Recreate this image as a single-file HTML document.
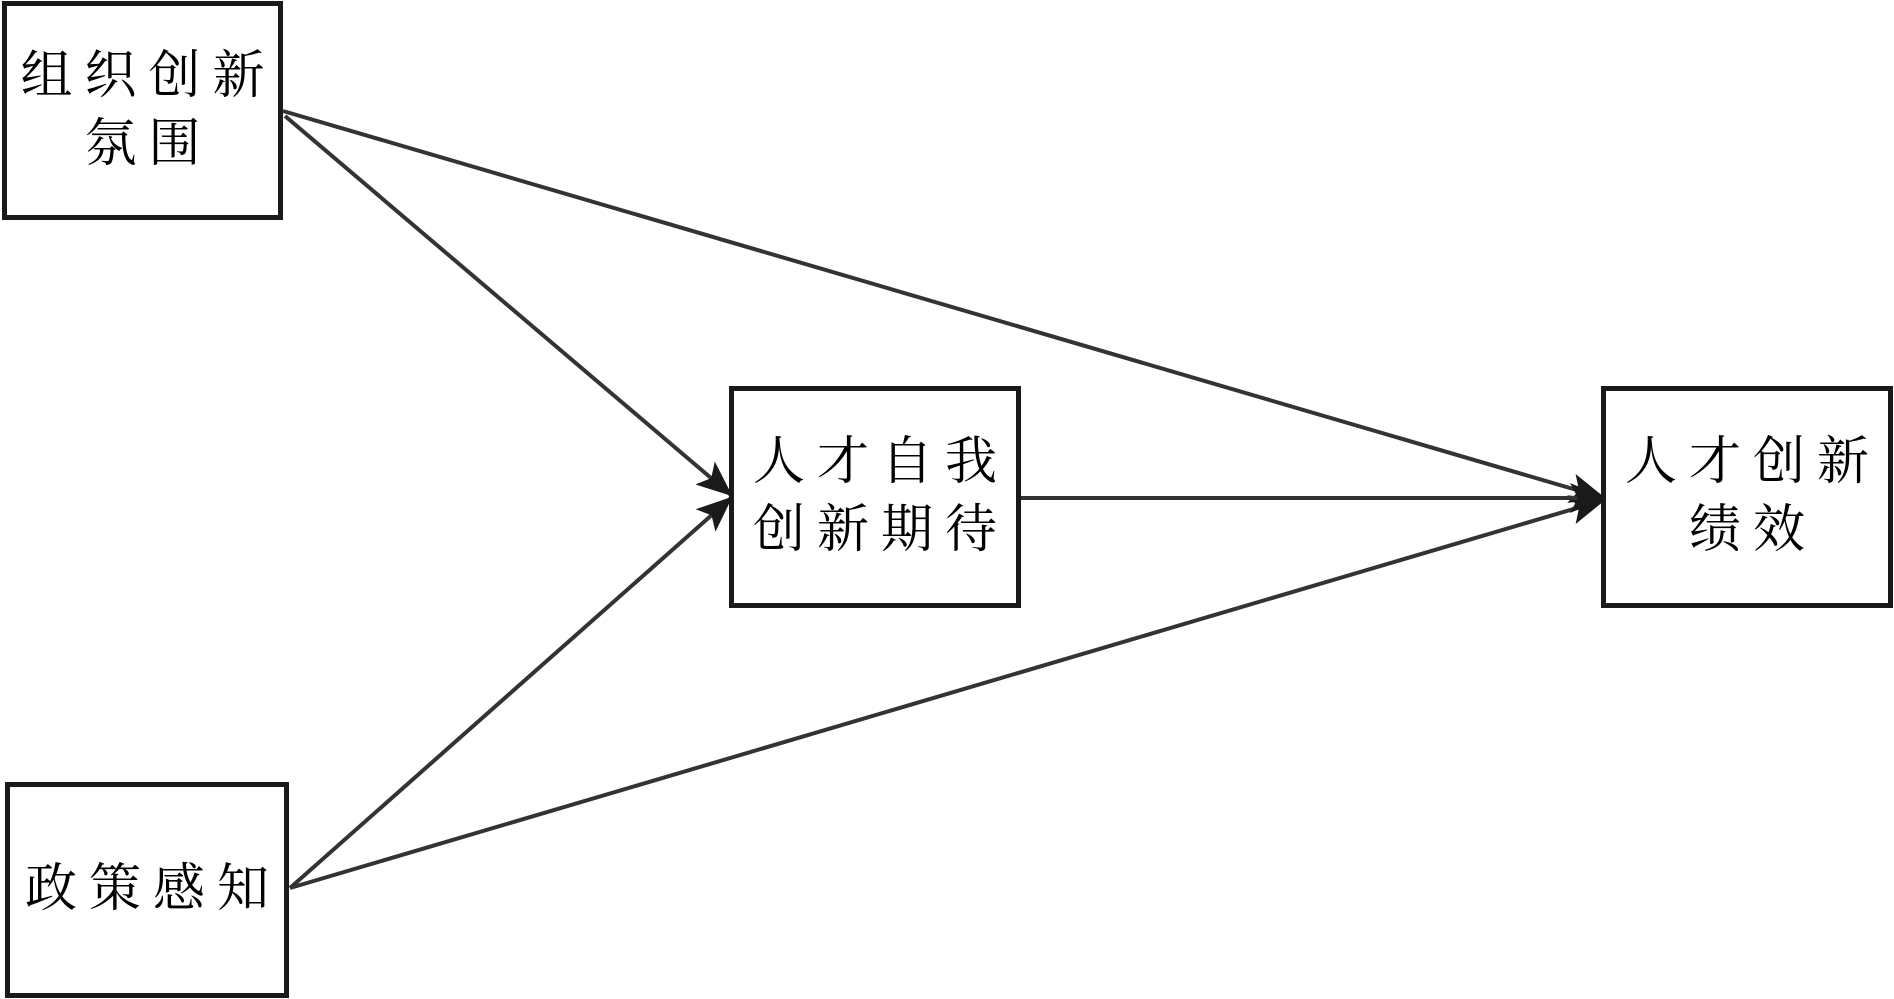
<!DOCTYPE html>
<html><head><meta charset="utf-8"><style>
html,body{margin:0;padding:0;background:#fff;width:1894px;height:999px;overflow:hidden}
.b{position:absolute;box-sizing:border-box;border:5px solid #1a1a1a;background:#fff;display:flex;align-items:center;justify-content:center;text-align:center;font-family:"Liberation Serif","Noto Serif CJK SC",serif;font-size:52px;line-height:68px;letter-spacing:12px;color:#000}
.b span{margin-right:-12px}
</style></head><body>
<svg width="1894" height="999" style="position:absolute;left:0;top:0">
<defs><marker id="a" markerWidth="10" markerHeight="10" refX="9" refY="5" orient="auto" markerUnits="userSpaceOnUse" viewBox="0 0 10 10"><path d="M0,0 L10,5 L0,10 z" fill="#1a1a1a"/></marker>
<marker id="m" markerWidth="36" markerHeight="30" refX="34" refY="15" orient="auto" markerUnits="userSpaceOnUse"><path d="M0,0 L36,15 L0,30 L8,15 z" fill="#1a1a1a"/></marker></defs>
<g stroke="#333" stroke-width="4" fill="none">
<line x1="283" y1="111" x2="1604" y2="498" marker-end="url(#m)"/>
<line x1="285" y1="116" x2="731" y2="495" marker-end="url(#m)"/>
<line x1="290" y1="888" x2="731" y2="498" marker-end="url(#m)"/>
<line x1="290" y1="888" x2="1604" y2="500" marker-end="url(#m)"/>
<line x1="1020" y1="498" x2="1604" y2="498" marker-end="url(#m)"/>
</g></svg>
<div class="b" style="left:2px;top:1px;width:281px;height:219px"><span>组织创新<br>氛围</span></div>
<div class="b" style="left:5px;top:782px;width:284px;height:216px"><span>政策感知</span></div>
<div class="b" style="left:729px;top:386px;width:292px;height:222px"><span>人才自我<br>创新期待</span></div>
<div class="b" style="left:1601px;top:386px;width:292px;height:222px"><span>人才创新<br>绩效</span></div>
</body></html>
